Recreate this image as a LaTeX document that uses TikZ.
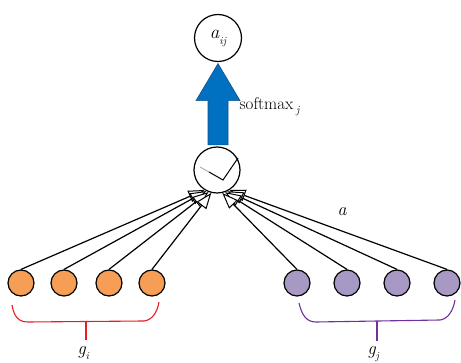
\documentclass[tikz,border=0pt]{standalone}
\usetikzlibrary{arrows.meta,calc}
\definecolor{unitorange}{RGB}{246,157,86}
\definecolor{unitpurple}{RGB}{168,152,196}
\definecolor{bracepurple}{RGB}{112,48,160}
\definecolor{bracered}{RGB}{232,28,36}
\definecolor{arrowblue}{RGB}{0,112,192}
\definecolor{arrowedge}{RGB}{20,80,140}
\begin{document}
\begin{tikzpicture}[x=1pt,y=-1pt,line width=1.2pt,
  bigcircle/.style={circle,draw=black,fill=white,inner sep=0pt,minimum size=47pt,line width=1.2pt},
  ocircle/.style={circle,draw=black,fill=unitorange,inner sep=0pt,minimum size=26pt,line width=1.2pt},
  pcircle/.style={circle,draw=black,fill=unitpurple,inner sep=0pt,minimum size=26pt,line width=1.2pt},
  feed/.style={draw=black,line width=1.2pt,-{Triangle[length=16pt,width=12pt,fill=white,line width=1pt]}},
  bracepath/.style={line width=1.1pt},
  bigtext/.style={font=\fontsize{18}{18}\selectfont\itshape,inner sep=0pt}]
\useasboundingbox (0,0) rectangle (461,363);

% output and attention nodes
\node[bigcircle] (out) at (218,38) {\fontsize{19}{19}\selectfont\itshape a\raisebox{-6pt}{\fontsize{11}{11}\selectfont ij}};
\node[bigcircle,minimum size=46pt] (att) at (217,170) {};

% check mark inside the attention node
\draw[gray!60,line width=1pt] (200,167) -- (209,172);
\draw[black,line width=1pt,line join=miter] (209,172) -- (223,180) -- (238,158);

% blue arrow from the attention node up to the output
\coordinate (tip) at ($(out.south)+(0,1.5)$);
\coordinate (base) at ($(att.north)+(0,-1.5)$);
\fill[arrowblue,draw=arrowedge,line width=0.6pt]
  (tip) -- ($(tip)+(22,37)$) -- ($(tip)+(10,37)$) -- ($(base)+(11,0)$)
  -- ($(base)+(-9,0)$) -- ($(tip)+(-10,37)$) -- ($(tip)+(-22,37)$) -- cycle;
\node[anchor=base west,font=\fontsize{17}{17}\selectfont,inner sep=0pt] (smx) at (239,110)
  {softmax\,\raisebox{-4pt}{\fontsize{11}{11}\selectfont\itshape j}};

% input units
\node[ocircle] (o1) at (21,283) {};
\node[ocircle] (o2) at (64,283) {};
\node[ocircle] (o3) at (109,283) {};
\node[ocircle] (o4) at (152,283) {};
\node[pcircle] (p1) at (297,283) {};
\node[pcircle] (p2) at (347,283) {};
\node[pcircle] (p3) at (397,283) {};
\node[pcircle] (p4) at (447,283) {};

% feed lines into the attention node
\draw[feed] (o1.north) -- (att.238);
\draw[feed] (o2.north) -- (att.243);
\draw[feed] (o3.north) -- (att.249);
\draw[feed] (o4.north) -- (att.256);
\draw[feed] (p4.north) -- (att.302);
\draw[feed] (p3.north) -- (att.296);
\draw[feed] (p2.north) -- (att.290);
\draw[feed] (p1.north) -- (att.283);

\node[bigtext] (alab) at (342,212) {a};

% braces under the two groups
\draw[bracered,bracepath] (12,305) .. controls (14,317) and (19,322) .. (28,322)
  -- (144,321) .. controls (152,320) and (157,313) .. (159,302);
\coordinate (bi) at (86,321.5);
\draw[bracered,bracepath] (bi) -- ++(0,19);
\node[anchor=base west,bigtext] (gi) at (77,355)
  {g\raisebox{-5pt}{\fontsize{11}{11}\selectfont i}};

\draw[bracepurple,bracepath] (299,303) .. controls (302,316) and (307,322) .. (316,322)
  -- (440,320) .. controls (448,319) and (453,311) .. (455,300);
\coordinate (bj) at (377,321);
\draw[bracepurple,bracepath] (bj) -- ++(0,20);
\node[anchor=base west,bigtext] (gj) at (367,355)
  {g\raisebox{-5pt}{\fontsize{11}{11}\selectfont j}};
\end{tikzpicture}
\end{document}
